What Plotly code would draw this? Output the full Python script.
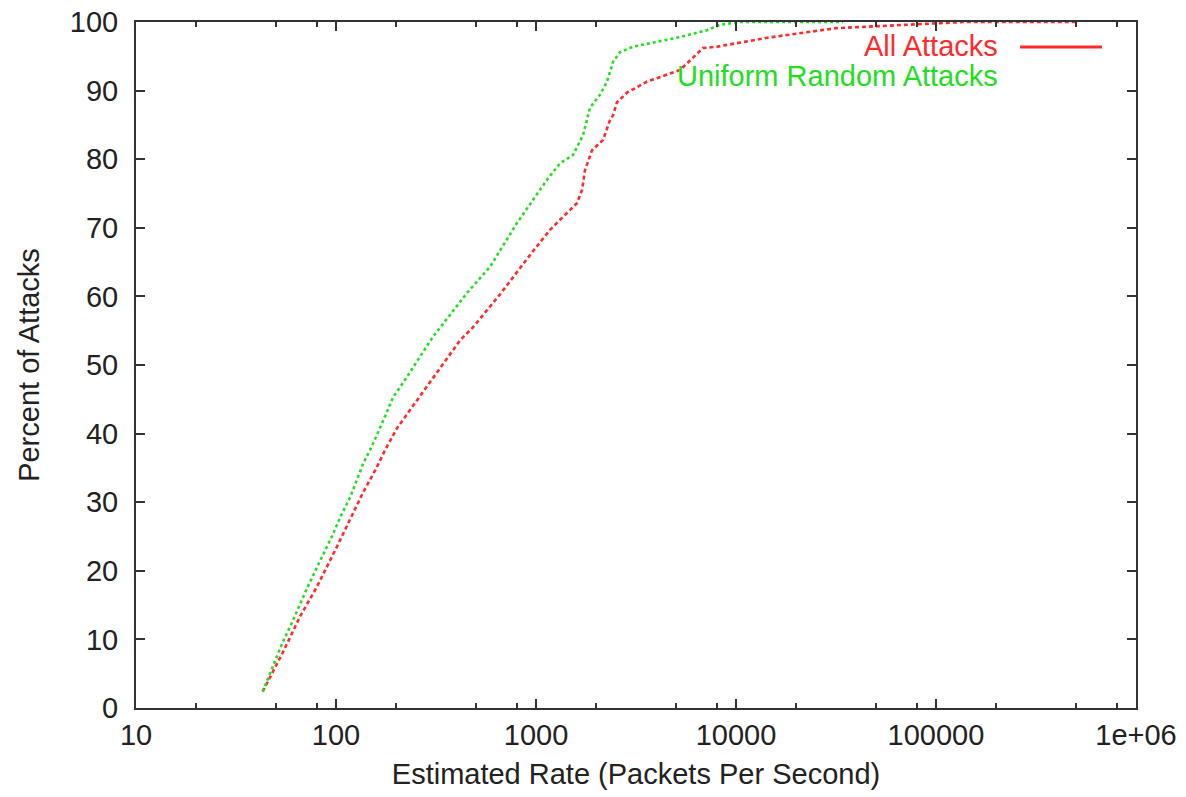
import plotly.graph_objects as go

# ---- data ----
all_rate = [43, 54, 66, 80, 101, 117, 136, 160, 176, 202, 234, 295, 417, 484, 661,
            966, 1175, 1365, 1603, 1698, 1758, 1905, 2163, 2344, 2427, 2541, 2851,
            3589, 4519, 5248, 6095, 6839, 8035, 10470, 14290, 17990, 21600, 31600,
            52000, 85000, 138000, 495000]
all_pct = [2.4, 8.0, 13.3, 17.6, 23.5, 27.4, 31.3, 35.1, 37.6, 40.8, 43.4, 47.4, 53.6,
           55.5, 60.3, 66.6, 69.7, 71.6, 73.6, 75.5, 78.4, 81.3, 82.8, 85.7, 86.4,
           88.3, 89.7, 91.3, 92.3, 93.0, 94.8, 96.2, 96.4, 97.0, 97.7, 98.1, 98.4,
           99.1, 99.4, 99.7, 100.0, 100.0]

uni_rate = [43, 54, 61, 72, 85, 95, 105, 118, 137, 148, 170, 193, 221, 305, 452, 589,
            803, 1135, 1318, 1531, 1718, 1862, 2089, 2265, 2427, 2630, 3055, 4027,
            5248, 7161, 8318, 10470, 12500, 20000, 34300]
uni_pct = [2.4, 9.5, 12.8, 17.6, 22.0, 24.9, 27.8, 30.8, 35.7, 37.6, 41.5, 45.3, 47.8,
           54.1, 60.5, 64.3, 70.7, 77.0, 79.4, 80.6, 83.5, 87.5, 89.4, 91.3, 94.2,
           95.6, 96.4, 97.1, 97.8, 98.8, 99.6, 100.0, 100.0, 100.0, 100.0]

x_ticks = [10, 100, 1000, 10000, 100000, 1000000]
x_labels = ["10", "100", "1000", "10000", "100000", "1e+06"]
x_minor = [m * 10 ** k for k in range(1, 6) for m in (2, 5, 8)]
y_ticks = list(range(0, 101, 10))

RED = "#ff2a2a"
GREEN = "#22dd22"
FONT = "Liberation Sans, Arial, sans-serif"
FS = 29

fig = go.Figure()
fig.add_trace(go.Scatter(x=all_rate, y=all_pct, mode="lines", name="All Attacks",
                         line=dict(color=RED, width=2.6, dash="4px,3px")))
fig.add_trace(go.Scatter(x=uni_rate, y=uni_pct, mode="lines", name="Uniform Random Attacks",
                         line=dict(color=GREEN, width=2.6, dash="dot")))

axis_common = dict(showline=True, linecolor="#333", linewidth=2, mirror="ticks",
                   ticks="inside", tickcolor="#333", tickwidth=2, showgrid=False,
                   zeroline=False, ticklabeloverflow="allow", automargin=False,
                   tickfont=dict(family=FONT, size=FS, color="#222"))

fig.update_xaxes(type="log", range=[1, 6], tickvals=x_ticks, ticktext=x_labels,
                 ticklen=9,
                 minor=dict(tickvals=x_minor, ticks="inside", ticklen=5, tickwidth=2,
                            tickcolor="#333", showgrid=False),
                 title=dict(text="Estimated Rate (Packets Per Second)", standoff=14,
                            font=dict(family=FONT, size=FS, color="#222")),
                 **axis_common)
fig.update_yaxes(range=[0, 100], tickvals=y_ticks, ticklen=9, ticklabelstandoff=10,
                 title=dict(text="Percent of Attacks", standoff=22,
                            font=dict(family=FONT, size=FS, color="#222")),
                 **axis_common)

# gnuplot-style key: right-aligned text followed by line sample
fig.add_annotation(xref="paper", yref="paper", x=0.864, y=0.965, xanchor="right",
                   yanchor="middle", text="All Attacks", showarrow=False,
                   font=dict(family=FONT, size=FS, color=RED))
fig.add_shape(type="line", xref="paper", yref="paper", x0=0.884, x1=0.966,
              y0=0.9636, y1=0.9636, line=dict(color=RED, width=3))
fig.add_annotation(xref="paper", yref="paper", x=0.864, y=0.921, xanchor="right",
                   yanchor="middle", text="Uniform Random Attacks", showarrow=False,
                   font=dict(family=FONT, size=FS, color=GREEN))

fig.update_layout(width=1186, height=797, showlegend=False,
                  margin=dict(l=136, r=50, t=22, b=89),
                  paper_bgcolor="white", plot_bgcolor="white")

fig.write_html("out.html", config={"displayModeBar": False},
               post_script="document.body.style.margin='0';document.body.style.overflow='hidden';")
